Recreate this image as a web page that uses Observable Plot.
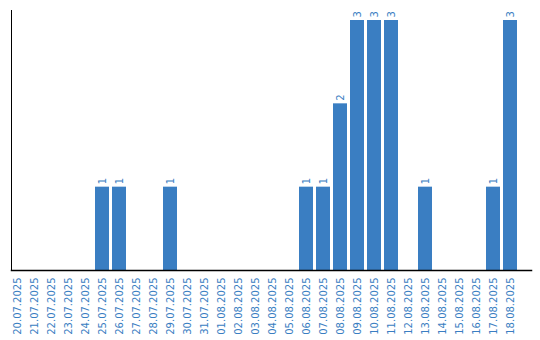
<!DOCTYPE html>
<html><head><meta charset="utf-8">
<script src="https://cdn.jsdelivr.net/npm/d3@7"></script>
<script src="https://cdn.jsdelivr.net/npm/@observablehq/plot@0.6"></script>
<style>body{margin:0;background:#fff}</style>
</head><body><div id="chart"></div>
<script>
const dates = ["20.07.2025","21.07.2025","22.07.2025","23.07.2025","24.07.2025","25.07.2025","26.07.2025","27.07.2025","28.07.2025","29.07.2025","30.07.2025","31.07.2025","01.08.2025","02.08.2025","03.08.2025","04.08.2025","05.08.2025","06.08.2025","07.08.2025","08.08.2025","09.08.2025","10.08.2025","11.08.2025","12.08.2025","13.08.2025","14.08.2025","15.08.2025","16.08.2025","17.08.2025","18.08.2025"];
const counts = [0,0,0,0,0,1,1,0,0,1,0,0,0,0,0,0,0,1,1,2,3,3,3,0,1,0,0,0,1,3];
const data = dates.map((d,i)=>({date:d, count:counts[i]}));
const nonzero = data.filter(d=>d.count>0);
const blue = "#3a7ec2";
const chart = Plot.plot({
  width:540, height:340,
  marginTop:10, marginLeft:11, marginRight:9, marginBottom:70,
  style:{fontFamily:"DejaVu Sans", fontSize:"10px", color:blue, background:"#fff"},
  x:{domain:dates, range:[7,520], padding:3/17, round:false, label:null, tickSize:0, tickPadding:7, tickRotate:-90},
  y:{domain:[0,3.12], axis:null},
  marks:[
    Plot.barY(nonzero,{x:"date", y:"count", fill:blue}),
    Plot.text(nonzero,{x:"date", y:"count", text:d=>String(d.count), rotate:-90, textAnchor:"start", dy:-3, fill:blue, fontSize:10}),
    Plot.frame({anchor:"left", stroke:"#000", strokeWidth:1}),
    Plot.frame({anchor:"bottom", stroke:"#000", strokeWidth:1.5})
  ]
});
document.getElementById("chart").append(chart);
</script></body></html>
